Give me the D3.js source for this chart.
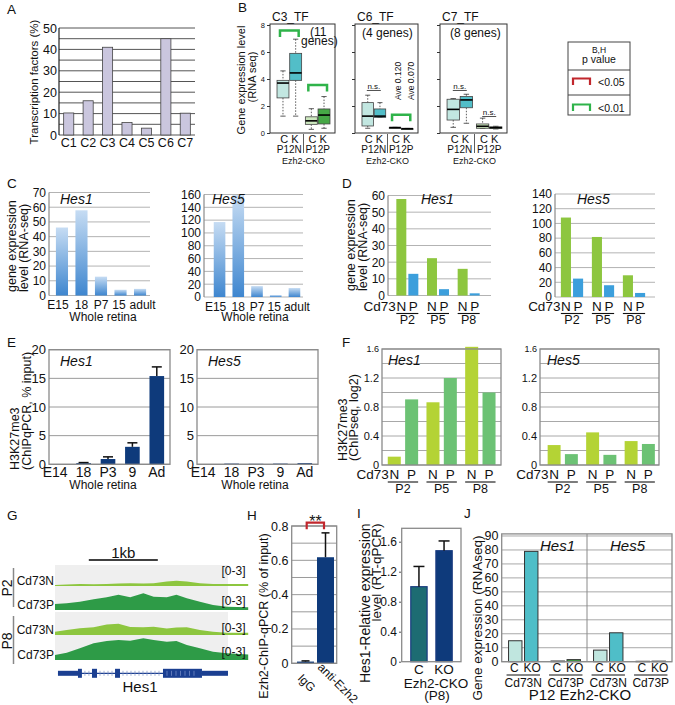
<!DOCTYPE html>
<html><head><meta charset="utf-8">
<script src="https://cdn.jsdelivr.net/npm/d3@7/dist/d3.min.js"></script>
<style>html,body{margin:0;padding:0;background:#fff}svg{display:block}</style>
</head><body>
<svg id="fig" width="675" height="705" xmlns="http://www.w3.org/2000/svg"></svg>
<script>
// ================= DATA =================
// Panel A
const aCategories = ["C1","C2","C3","C4","C5","C6","C7"];
const aValues = [10.3, 16, 41, 5.8, 3.2, 45, 10.2];
const aTicks = [0,10,20,30,40,50];

// Panel B  (box stats: [low whisker, q1, median, q3, high whisker]; order P12N-C, P12N-K, P12P-C, P12P-K)
const bTitles = ["C3_TF","C6_TF","C7_TF"];
const bGeneCounts = ["(11 genes)","(4 genes)","(8 genes)"];
const bGroups = ["P12N","P12P"];
const bGenotypes = ["C","K"];
const bTicks = [0,2,4,6,8];
const bC3Boxes = [[1.25,2.6,3.7,3.9,4.6],[1.25,3.9,4.45,5.9,6.95],[0.27,0.64,0.9,1.2,1.8],[0.35,0.67,1.33,1.78,2.7]];
const bC6Boxes = [[0.35,0.52,1.25,2.25,2.8],[1.16,1.16,1.25,1.78,2.25],[0.38,0.38,0.4,0.42,0.42],[0.3,0.3,0.32,0.34,0.34]];
const bC7Boxes = [[0.42,0.96,1.75,2.5,2.55],[0.72,1.87,2.45,2.7,2.87],[0.35,0.35,0.5,0.67,1.1],[0.3,0.33,0.4,0.45,0.5]];
const bSignif = [[["P12N",7.6],["P12P",3.55]], [["P12P",1.35]], []];
const bNotSignif = [[], [["P12N",3.15]], [["P12N",3.15],["P12P",1.22]]];
const bAveLabels = ["Ave 0.120","Ave 0.070"];
const legendLabels = ["<0.05","<0.01"];

// Panel C
const cStages = ["E15","18","P7","15","adult"];
const cHes1 = [46.2, 57.9, 12.8, 3.9, 4.5];
const cHes5 = [117, 159, 17, 3, 14];
const cHes1Ticks = [0,10,20,30,40,50,60,70];
const cHes5Ticks = [0,20,40,60,80,100,120,140,160];

// Panel D
const dStages = ["P2","P5","P8"];
const dCells = ["N","P"];
const dHes1N = [57.9, 22.4, 16];
const dHes1P = [13, 3.8, 1.3];
const dHes5N = [108, 81.6, 29.5];
const dHes5P = [25, 16, 5.5];
const dHes1Ticks = [0,10,20,30,40,50,60];
const dHes5Ticks = [0,20,40,60,80,100,120,140];

// Panel E
const eStages = ["E14","18","P3","9","Ad"];
const eHes1 = [0, 0.2, 0.92, 3.05, 15.4];
const eHes1Err = [0, 0.1, 0.38, 0.7, 1.6];
const eHes5 = [0, 0.12, 0.08, 0.12, 0.2];
const eHes5Err = [0, 0, 0, 0, 0];
const eTicks = [0,5,10,15,20];

// Panel F
const fHes1N = [0.115, 0.865, 1.63];
const fHes1P = [0.905, 1.2, 1.0];
const fHes5N = [0.275, 0.45, 0.33];
const fHes5P = [0.15, 0.14, 0.29];
const fTicks = [0,0.4,0.8,1.2,1.6];
const fGrid = [0,0.2,0.4,0.6,0.8,1.0,1.2,1.4,1.6];

// Panel G (ChIP-seq tracks, scale 0-3)
const gPositionsKb = [0,0.17,0.36,0.56,0.75,0.92,1.09,1.28,1.43,1.62,1.76,1.91,2.1,2.29,2.49,2.8];
const gP2Cd73N = [0.13,0.18,0.25,0.22,0.25,0.3,0.33,0.3,0.33,0.55,0.67,0.55,0.35,0.25,0.25,0.25];
const gP2Cd73P = [0.75,0.83,1.04,1.33,1.58,1.9,1.58,2.08,1.67,1.58,1.9,1.46,1.04,0.63,0.42,0.35];
const gP8Cd73N = [0.42,0.63,0.83,0.96,1.3,1.4,1.0,0.96,1.04,0.8,0.95,0.96,0.63,0.42,0.29,0.29];
const gP8Cd73P = [0.63,0.92,1.46,2.08,2.38,2.5,2.42,2.71,2.5,2.29,2.38,1.88,1.46,1.04,0.83,0.7];
const gTrackLabels = ["Cd73N","Cd73P","Cd73N","Cd73P"];
const gStages = ["P2","P8"];
const gRange = "[0-3]";
const gGeneKb = [0.043, 2.507];
const gUtrKb = [[0.043,0.333],[2.13,2.507]];
const gExonsKb = [[0.333,0.39],[0.536,0.609],[0.87,0.942],[1.565,2.13]];

// Panel H
const hCats = ["IgG","anti-Ezh2"];
const hValues = [0.01, 0.618];
const hErr = [0.004, 0.142];
const hTicks = [0,0.2,0.4,0.6,0.8];
const hGrid = [0,0.1,0.2,0.3,0.4,0.5,0.6,0.7,0.8];

// Panel I
const iCats = ["C","KO"];
const iValues = [1.0, 1.48];
const iErr = [0.27, 0.13];
const iTicks = [0,0.4,0.8,1.2,1.6];

// Panel J
const jGenes = ["Hes1","Hes5"];
const jCells = ["Cd73N","Cd73P"];
const jGeno = ["C","KO"];
const jHes1 = [15, 79, 0.5, 1.5];
const jHes5 = [8.3, 20.7, 0.3, 0.4];
const jTicks = [0,10,20,30,40,50,60,70,80,90];

// ================= DRAWING =================
const F = '"Liberation Sans", Arial, Helvetica, sans-serif';
const svg = d3.select("#fig");
svg.append("rect").attr("width",675).attr("height",705).attr("fill","#fff");
const defs = svg.append("defs");
const grad = defs.append("linearGradient").attr("id","blueGrad").attr("x1",0).attr("y1",0).attr("x2",0).attr("y2",1);
grad.append("stop").attr("offset","0%").attr("stop-color","#c6dcf3");
grad.append("stop").attr("offset","100%").attr("stop-color","#3e86cf");

function T(g, x, y, s, o = {}) {
  const t = g.append("text").attr("x", x).attr("y", y).text(s)
    .attr("font-family", F).attr("font-size", o.size || 12)
    .attr("text-anchor", o.anchor || "start").attr("fill", o.fill || "#111");
  if (o.italic) t.attr("font-style", "italic");
  if (o.weight) t.attr("font-weight", o.weight);
  if (o.rot != null) t.attr("transform", `rotate(${o.rot},${x},${y})`);
  return t;
}
function L(g, x1, y1, x2, y2, c = "#000", w = 1, dash) {
  const l = g.append("line").attr("x1", x1).attr("y1", y1).attr("x2", x2).attr("y2", y2)
    .attr("stroke", c).attr("stroke-width", w);
  if (dash) l.attr("stroke-dasharray", dash);
  return l;
}
function yAxis(g, x, y, ticks, o = {}) {
  const ax = g.append("g").attr("transform", `translate(${x},0)`)
    .call(d3.axisLeft(y).tickValues(ticks).tickSize(o.tick || 0).tickPadding(o.pad == null ? 3 : o.pad)
      .tickFormat(o.fmt || (d => String(d))));
  ax.select(".domain").remove();
  ax.selectAll("text").attr("font-family", F).attr("font-size", o.size || 12).attr("fill", "#111");
  ax.selectAll("line").attr("stroke", o.tickColor || "#555");
  return ax;
}
function grid(g, x0, x1, y, vals, c = "#aaa", w = 1) {
  g.append("g").selectAll("line").data(vals).join("line")
    .attr("x1", x0).attr("x2", x1).attr("y1", d => y(d)).attr("y2", d => y(d))
    .attr("stroke", c).attr("stroke-width", w);
}
function frame(g, x0, x1, yTop, yBot, c = "#888", w = 1.2) {
  g.append("rect").attr("x", x0).attr("y", yTop).attr("width", x1 - x0).attr("height", yBot - yTop)
    .attr("fill", "none").attr("stroke", c).attr("stroke-width", w);
}
function bracket(g, xa, xb, yTop, h, c, w = 2.2) {
  g.append("path").attr("d", `M${xa},${yTop + h}V${yTop}H${xb}V${yTop + h}`)
    .attr("fill", "none").attr("stroke", c).attr("stroke-width", w);
}
function groupedBars(g, groups, subs, series, xr, pi, po, y, colors, stroke, sw) {
  const xg = d3.scaleBand().domain(groups).range(xr);
  const xs = d3.scaleBand().domain(subs).range([0, xg.bandwidth()]).paddingInner(pi).paddingOuter(po);
  subs.forEach((s, si) => {
    g.append("g").selectAll("rect").data(series[si]).join("rect")
      .attr("x", (d, i) => xg(groups[i]) + xs(s)).attr("y", d => y(d))
      .attr("width", xs.bandwidth()).attr("height", d => Math.max(0, y(0) - y(d)))
      .attr("fill", Array.isArray(colors[si]) ? (d, i) => colors[si][i] : colors[si])
      .attr("stroke", stroke || "none").attr("stroke-width", sw || 0);
  });
  return { xg, xs };
}
function errorBars(g, x, cats, vals, errs, y, cap) {
  cats.forEach((c, i) => {
    if (!errs[i]) return;
    const cx = x(c) + x.bandwidth() / 2;
    L(g, cx, y(vals[i]), cx, y(vals[i] + errs[i]), "#111", 1.5);
    L(g, cx - cap / 2, y(vals[i] + errs[i]), cx + cap / 2, y(vals[i] + errs[i]), "#111", 1.5);
  });
}

// panel letters
[["A",7,13.5],["B",238,12],["C",7,187.5],["D",342,188],["E",7,347],["F",342,347],
 ["G",7,520],["H",247,520],["I",357,518],["J",464,518]].forEach(([s,x,y]) => T(svg, x, y, s, {size:13.5}));

// ---------- Panel A ----------
{
  const g = svg.append("g");
  const x = d3.scaleBand().domain(aCategories).range([59,195]).paddingInner(0.48).paddingOuter(0.24);
  const y = d3.scaleLinear().domain([0,50]).range([135,28]);
  grid(g, 59, 195, y, d3.range(0, 51, 5), "#555", 1);
  g.append("g").selectAll("rect").data(aValues).join("rect")
    .attr("x", (d,i) => x(aCategories[i])).attr("y", d => y(d))
    .attr("width", x.bandwidth()).attr("height", d => y(0) - y(d))
    .attr("fill", "#cac6de").attr("stroke", "#444").attr("stroke-width", 0.8);
  L(g, 59, 28, 59, 135, "#222", 1.2);
  yAxis(g, 59, y, aTicks, {size:12.5, pad:2});
  const xa = g.append("g").attr("transform","translate(0,135)").call(d3.axisBottom(x).tickSize(0).tickPadding(3));
  xa.select(".domain").remove();
  xa.selectAll("text").attr("font-family",F).attr("font-size",12.5).attr("fill","#111");
  T(g, 37.5, 82, "Transcription factors (%)", {size:11.5, anchor:"middle", rot:-90});
}

// ---------- Panel B ----------
{
  const yB = d3.scaleLinear().domain([0,8]).range([133,25]);
  const sets = [bC3Boxes, bC6Boxes, bC7Boxes];
  const boxColors = ["#c2e7e1","#52bec8","#cde8bf","#46a846"];
  [[270,335],[355,418],[440,507]].forEach(([x0,x1], pi) => {
    const g = svg.append("g");
    const ax = g.append("g").attr("transform",`translate(${x0},0)`)
      .call(d3.axisLeft(yB).tickValues(bTicks).tickSize(3).tickPadding(2).tickFormat(pi === 0 ? (d => String(d)) : (() => "")));
    ax.select(".domain").remove();
    ax.selectAll("text").attr("font-family",F).attr("font-size",7.5).attr("fill","#111");
    ax.selectAll("line").attr("stroke","#333");
    T(g, x0 + 2, 21, bTitles[pi], {size:12});
    if (pi === 0) {
      const parts = bGeneCounts[0].split(" ");
      T(g, 310, 36, parts[0], {size:12});
      T(g, 301, 45, parts[1], {size:12});
    } else {
      T(g, x0 + (pi === 1 ? 7 : 10), 37, bGeneCounts[pi], {size:12});
    }
    const xg = d3.scaleBand().domain(bGroups).range([x0 + 6, x1 - 4]).paddingInner(0.06);
    const xs = d3.scaleBand().domain(bGenotypes).range([0, xg.bandwidth()]).paddingInner(0.06).paddingOuter(0.08);
    const bw = xs.bandwidth();
    bGroups.forEach((gr, gi) => bGenotypes.forEach((ge, si) => {
      const s = sets[pi][gi * 2 + si];
      const bx = xg(gr) + xs(ge), cx = bx + bw / 2;
      L(g, cx, yB(s[4]), cx, yB(s[3]), "#333", 0.8, "1.5,1.5");
      L(g, cx, yB(s[1]), cx, yB(s[0]), "#333", 0.8, "1.5,1.5");
      L(g, cx - bw * 0.22, yB(s[4]), cx + bw * 0.22, yB(s[4]), "#333", 0.8);
      L(g, cx - bw * 0.22, yB(s[0]), cx + bw * 0.22, yB(s[0]), "#333", 0.8);
      g.append("rect").attr("x", bx).attr("y", yB(s[3])).attr("width", bw)
        .attr("height", Math.max(1.2, yB(s[1]) - yB(s[3])))
        .attr("fill", boxColors[gi * 2 + si]).attr("stroke", "#444").attr("stroke-width", 0.8);
      L(g, bx, yB(s[2]), bx + bw, yB(s[2]), "#000", 1.6);
    }));
    frame(g, x0, x1, 24, 133, "#333", 1);
    bSignif[pi].forEach(([gr, v]) => {
      bracket(g, xg(gr) + xs("C") + bw / 2 - 3, xg(gr) + xs("K") + bw / 2 + 3, yB(v), 6.5, "#2fb34a", 2.5);
    });
    bNotSignif[pi].forEach(([gr, v]) => {
      const cx = xg(gr) + xg.bandwidth() / 2;
      T(g, cx, yB(v) - 1.5, "n.s.", {size:8, anchor:"middle"});
      L(g, cx - 7, yB(v), cx + 7, yB(v), "#222", 0.8);
    });
    if (pi === 1) {
      T(g, 401, 100, bAveLabels[0], {size:8.5, rot:-90});
      T(g, 413.5, 100, bAveLabels[1], {size:8.5, rot:-90});
    }
    const centers = bGroups.map(gr => xg(gr) + xg.bandwidth() / 2);
    bGroups.forEach((gr, gi) => {
      T(g, centers[gi], 143, bGenotypes.join(" "), {size:11, anchor:"middle"});
      T(g, centers[gi], 152.5, gr, {size:10, anchor:"middle"});
    });
    const sep = (xg(bGroups[0]) + xg.bandwidth() + xg(bGroups[1])) / 2;
    L(g, sep, 134, sep, 153, "#333", 0.8);
    T(g, (centers[0] + centers[1]) / 2, 163.5, "Ezh2-CKO", {size:9, anchor:"middle"});
  });
  const g = svg.append("g");
  T(g, 245, 80, "Gene expression level", {size:11, anchor:"middle", rot:-90});
  T(g, 256, 77, "(RNA seq)", {size:11, anchor:"middle", rot:-90});
  // legend
  frame(g, 568, 630, 42, 115, "#444", 1);
  L(g, 568, 70, 630, 70, "#444", 1);
  L(g, 568, 95, 630, 95, "#444", 1);
  T(g, 599, 52.5, "B,H", {size:8.5, anchor:"middle"});
  T(g, 599, 62.5, "p value", {size:10.5, anchor:"middle"});
  bracket(g, 573, 590, 78.5, 6.5, "#c1272d", 2.2);
  T(g, 598, 86, legendLabels[0], {size:10.5});
  bracket(g, 573, 590, 104.5, 6.5, "#2fb34a", 2.2);
  T(g, 598, 111.5, legendLabels[1], {size:10.5});
}

// ---------- Panel C ----------
function drawC(vals, ticks, yr, xr, fx, title, titleX, retinaX) {
  const g = svg.append("g");
  const y = d3.scaleLinear().domain([0, ticks[ticks.length - 1]]).range(yr);
  const x = d3.scaleBand().domain(cStages).range(xr).paddingInner(0.38).paddingOuter(0.2);
  grid(g, fx[0], fx[1], y, ticks, "#b3b3b3", 1);
  L(g, fx[0], yr[1], fx[0], yr[0], "#8a8a8a", 1.2);
  g.append("g").selectAll("rect").data(vals).join("rect")
    .attr("x", (d,i) => x(cStages[i])).attr("y", d => y(d))
    .attr("width", x.bandwidth()).attr("height", d => y(0) - y(d)).attr("fill", "url(#blueGrad)");
  yAxis(g, fx[0] - 1, y, ticks, {size:12, pad:2});
  const xa = g.append("g").attr("transform",`translate(0,${yr[0]})`).call(d3.axisBottom(x).tickSize(0).tickPadding(5));
  xa.select(".domain").remove();
  const nudge = [-4, 0, 0, -1.5, 2.5];
  xa.selectAll("text").attr("font-family",F).attr("font-size",12).attr("fill","#111")
    .attr("dx", (d,i) => nudge[i]);
  T(g, titleX, 203.5, title, {size:14, italic:true});
  T(g, retinaX, 320.5, "Whole retina", {size:12, anchor:"middle"});
}
drawC(cHes1, cHes1Ticks, [295.5,192.5], [52,150], [49,150], "Hes1", 60, 103);
drawC(cHes5, cHes5Ticks, [297,194.5], [210,304], [204,303], "Hes5", 212, 255);
{
  const g = svg.append("g");
  T(g, 15.5, 292, "gene expression", {size:12.5, rot:-90});
  T(g, 28, 292, "level  (RNA-seq)", {size:12.5, rot:-90});
}

// ---------- Panel D / F helpers ----------
function cd73Labels(g, xg, xs, base) {
  const bw = xs.bandwidth();
  dStages.forEach(st => {
    const gx0 = xg(st);
    dCells.forEach(c => T(g, gx0 + xs(c) + bw / 2, base, c, {size:13.5, anchor:"middle"}));
    L(g, gx0 + xs(dCells[0]), base + 3, gx0 + xs(dCells[1]) + bw, base + 3, "#111", 1.1);
    T(g, gx0 + xg.bandwidth() / 2, base + 13.5, st, {size:12.5, anchor:"middle"});
  });
  T(g, xg(dStages[0]) + xs(dCells[0]) + bw / 2 - 5.5, base, "Cd73", {size:13.5, anchor:"end"});
}
function drawD(nVals, pVals, ticks, yr, fx, xr, title, titleX) {
  const g = svg.append("g");
  const y = d3.scaleLinear().domain([0, ticks[ticks.length - 1]]).range(yr);
  grid(g, fx[0], fx[1], y, ticks, "#b3b3b3", 1);
  L(g, fx[0], yr[1], fx[0], yr[0], "#8a8a8a", 1.2);
  const { xg, xs } = groupedBars(g, dStages, dCells, [nVals, pVals], xr, 0.17, 0.36, y, ["#8dc63f","#3c9fdc"]);
  yAxis(g, fx[0] - 1, y, ticks, {size:12, pad:2});
  cd73Labels(g, xg, xs, 310.5);
  T(g, titleX, 203.5, title, {size:14, italic:true});
}
drawD(dHes1N, dHes1P, dHes1Ticks, [295.5,195.5], [388,491], [392,484], "Hes1", 421);
drawD(dHes5N, dHes5P, dHes5Ticks, [297,194], [555,655], [556.5,649.5], "Hes5", 577);
{
  const g = svg.append("g");
  T(g, 355, 291, "gene expression", {size:12.5, rot:-90});
  T(g, 366.5, 291, "level  (RNA-seq)", {size:12.5, rot:-90});
}

// ---------- Panel E ----------
function drawE(vals, errs, fx, xr, title, titleX, retinaX) {
  const g = svg.append("g");
  const y = d3.scaleLinear().domain([0,20]).range([464.3,349.7]);
  const x = d3.scaleBand().domain(eStages).range(xr).paddingInner(0.4).paddingOuter(0.2);
  grid(g, fx[0], fx[1], y, eTicks, "#9a9a9a", 1);
  g.append("g").selectAll("rect").data(vals).join("rect")
    .attr("x", (d,i) => x(eStages[i])).attr("y", d => y(d))
    .attr("width", x.bandwidth()).attr("height", d => y(0) - y(d)).attr("fill", "#0e3a7b");
  errorBars(g, x, eStages, vals, errs, y, 10);
  frame(g, fx[0], fx[1], y(20), y(0), "#8a8a8a", 1.3);
  yAxis(g, fx[0] - 1, y, eTicks, {size:13, pad:2});
  const xa = g.append("g").attr("transform",`translate(0,${y(0)})`).call(d3.axisBottom(x).tickSize(0).tickPadding(3));
  xa.select(".domain").remove();
  xa.selectAll("text").attr("font-family",F).attr("font-size",14).attr("fill","#111")
    .attr("dx", (d,i) => i === 0 ? -4 : 0);
  T(g, titleX, 366, title, {size:14, italic:true});
  T(g, retinaX, 489, "Whole retina", {size:12, anchor:"middle"});
}
drawE(eHes1, eHes1Err, [49,170], [47,169], "Hes1", 60, 103);
drawE(eHes5, eHes5Err, [197,318], [195,317], "Hes5", 208, 255);
{
  const g = svg.append("g");
  T(g, 18.5, 470, "H3K27me3", {size:12.5, rot:-90});
  T(g, 30.5, 470, "(ChIPqPCR, % input)", {size:12.5, rot:-90});
}

// ---------- Panel F ----------
function drawF(nVals, pVals, fx, xr, title, titleX) {
  const g = svg.append("g");
  const y = d3.scaleLinear().domain([0,1.6]).range([465,349]);
  grid(g, fx[0], fx[1], y, fGrid, "#a8a8a8", 1);
  const { xg, xs } = groupedBars(g, dStages, dCells, [nVals, pVals], xr, 0.25, 0.24, y, ["#b4d335","#6cc274"]);
  frame(g, fx[0], fx[1], y(1.6), y(0), "#8a8a8a", 1.3);
  const ax = yAxis(g, fx[0] - 1, y, fTicks, {size:11, pad:2});
  ax.selectAll("text").filter(d => d === 1.6).attr("font-size", 9);
  cd73Labels(g, xg, xs, 479);
  T(g, titleX, 364.5, title, {size:14, italic:true});
}
drawF(fHes1N, fHes1P, [382,501], [383.6,499.7], "Hes1", 388);
drawF(fHes5N, fHes5P, [540,659], [543.5,659], "Hes5", 547);
{
  const g = svg.append("g");
  T(g, 347, 461, "H3K27me3", {size:12.5, rot:-90});
  T(g, 357.5, 461, "(ChIPseq, log2)", {size:12.5, rot:-90});
}

// ---------- Panel G ----------
{
  const g = svg.append("g");
  const gx = d3.scaleLinear().domain([0,2.8]).range([55,248.2]);
  const rows = [[565,586,gP2Cd73N,"#8dc63f"],[586,610,gP2Cd73P,"#2e9b47"],[612,635,gP8Cd73N,"#8dc63f"],[635,660,gP8Cd73P,"#2e9b47"]];
  const labelBase = [574.5, 605, 631.5, 656];
  rows.forEach(([top, bot, vals, col], ri) => {
    g.append("rect").attr("x", 55).attr("y", top).attr("width", 173).attr("height", bot - top).attr("fill", "#efefef");
    const yv = d3.scaleLinear().domain([0,3]).range([bot, bot - 24]);
    const area = d3.area().x((d,i) => gx(gPositionsKb[i])).y0(bot).y1(d => yv(d));
    g.append("path").datum(vals).attr("d", area).attr("fill", col);
    T(g, 54, bot - 1, gTrackLabels[ri], {size:12, anchor:"end"});
    T(g, 221.5, labelBase[ri], gRange, {size:12});
  });
  L(g, 13.5, 568, 13.5, 607, "#888", 1.5);
  L(g, 13.5, 616, 13.5, 664, "#888", 1.5);
  T(g, 11.5, 588, gStages[0], {size:14, anchor:"middle", rot:-90});
  T(g, 11.5, 641, gStages[1], {size:14, anchor:"middle", rot:-90});
  // scale bar
  L(g, gx(0.49), 560, gx(1.49), 560, "#000", 1.6);
  T(g, gx(0.99), 557.5, "1kb", {size:15, anchor:"middle"});
  // gene model
  const gy = 673.3, navy = "#1b3f91";
  L(g, gx(gGeneKb[0]), gy, gx(gGeneKb[1]), gy, navy, 1.2);
  for (let k = 0; k < gExonsKb.length - 1; k++) {
    const a = gx(gExonsKb[k][1]), b = gx(gExonsKb[k + 1][0]);
    for (let xx = a + 3; xx < b - 1; xx += 4) L(g, xx, gy - 2.5, xx, gy + 2.5, "#7d8fc2", 0.7);
  }
  gUtrKb.forEach(([a, b]) => g.append("rect").attr("x", gx(a)).attr("y", gy - 2.5).attr("width", gx(b) - gx(a)).attr("height", 5).attr("fill", navy));
  gExonsKb.forEach(([a, b]) => g.append("rect").attr("x", gx(a)).attr("y", gy - 4.5).attr("width", gx(b) - gx(a)).attr("height", 9).attr("fill", navy));
  {
    const [a, b] = gExonsKb[gExonsKb.length - 1];
    for (let xx = gx(a) + 4; xx < gx(b) - 6; xx += 4.5) L(g, xx, gy - 2.5, xx, gy + 2.5, "#8fa3d6", 0.6);
  }
  T(g, 140, 692, "Hes1", {size:15, anchor:"middle"});
}

// ---------- Panel H ----------
{
  const g = svg.append("g");
  const y = d3.scaleLinear().domain([0,0.8]).range([663.3,526]);
  const x = d3.scaleBand().domain(hCats).range([295,336]).paddingInner(0.15).paddingOuter(0.1);
  grid(g, 291.7, 336.7, y, hGrid, "#9a9a9a", 1);
  g.append("g").selectAll("rect").data(hValues).join("rect")
    .attr("x", (d,i) => x(hCats[i])).attr("y", d => y(d))
    .attr("width", x.bandwidth()).attr("height", d => y(0) - y(d)).attr("fill", "#0e3a7b");
  errorBars(g, x, hCats, hValues, hErr, y, 8);
  frame(g, 291.7, 336.7, y(0.8), y(0), "#8a8a8a", 1.3);
  yAxis(g, 290.5, y, hTicks, {size:12.5, pad:2, fmt: d => d === 0 ? "0" : d3.format(".1f")(d)});
  hCats.forEach((c, i) => T(g, x(c) + x.bandwidth() / 2 - 8.5, 679 - i * 11, c, {size:12, rot:45}));
  bracket(g, 306.7, 324, 522.7, 6.6, "#c1272d", 2.2);
  T(g, 315.5, 527, "**", {size:16, anchor:"middle"});
  T(g, 268, 616, "Ezh2-ChIP-qPCR (% of input)", {size:12.5, anchor:"middle", rot:-90});
}

// ---------- Panel I ----------
{
  const g = svg.append("g");
  const y = d3.scaleLinear().domain([0,1.6]).range([661.7,541.7]);
  const x = d3.scaleBand().domain(iCats).range([402,461]).paddingInner(0.35).paddingOuter(0.35);
  const cols = ["#1d6c72","#0e3a7b"];
  g.append("g").selectAll("rect").data(iValues).join("rect")
    .attr("x", (d,i) => x(iCats[i])).attr("y", d => y(d))
    .attr("width", x.bandwidth()).attr("height", d => y(0) - y(d))
    .attr("fill", (d,i) => cols[i]).attr("stroke", "#1a3c80").attr("stroke-width", 1.2);
  errorBars(g, x, iCats, iValues, iErr, y, 11);
  frame(g, 401.7, 461, 528.3, 661.7, "#8a8a8a", 1.3);
  yAxis(g, 401, y, iTicks, {size:12, pad:2, tick:2, fmt: d => d === 0 ? "0" : d3.format(".1f")(d)});
  iCats.forEach(c => T(g, x(c) + x.bandwidth() / 2, 673.5, c, {size:13.5, anchor:"middle"}));
  T(g, 436, 687.5, "Ezh2-CKO", {size:13.5, anchor:"middle"});
  T(g, 437, 700, "(P8)", {size:13.5, anchor:"middle"});
  T(g, 369.5, 523.5, "Hes1-Relative expression", {size:14, anchor:"end", rot:-90});
  T(g, 380.5, 523.5, "level (RT-qPCR)", {size:13.5, anchor:"end", rot:-90});
}

// ---------- Panel J ----------
{
  const g = svg.append("g");
  const y = d3.scaleLinear().domain([0,91.5]).range([661.7,533.9]);
  grid(g, 501.7, 672, y, jTicks, "#a8a8a8", 1);
  const keys = jGenes.flatMap(ge => jCells.map(c => ge + "|" + c));
  const vals = [jHes1, jHes5].flat();
  const cSeries = keys.map((k, i) => vals[i * 2]);
  const koSeries = keys.map((k, i) => vals[i * 2 + 1]);
  const cCols = keys.map(k => k.endsWith(jCells[0]) ? "#c0e6df" : "#cfe7c4");
  const koCols = keys.map(k => k.endsWith(jCells[0]) ? "#4fbec8" : "#3f9f45");
  const { xg, xs } = groupedBars(g, keys, jGeno, [cSeries, koSeries], [502,672], 0.16, 0.41, y, [cCols, koCols], "#333", 1);
  const divX = xg(keys[2]);
  L(g, divX, y(91.5), divX, y(0), "#8a8a8a", 1);
  frame(g, 501.7, 672, y(91.5), y(0), "#8a8a8a", 1.3);
  yAxis(g, 500.5, y, jTicks, {size:12.5, pad:2});
  const bw = xs.bandwidth();
  keys.forEach(k => {
    const gx0 = xg(k);
    T(g, gx0 + xs(jGeno[0]) + bw / 2 - 1, 672, jGeno[0], {size:12, anchor:"middle"});
    T(g, gx0 + xs(jGeno[1]) + bw / 2 + 1, 672, jGeno[1], {size:12, anchor:"middle"});
    L(g, gx0 + xs(jGeno[0]) - 2, 675, gx0 + xs(jGeno[1]) + bw + 2, 675, "#111", 1.1);
    T(g, gx0 + xg.bandwidth() / 2, 686.5, k.split("|")[1], {size:12, anchor:"middle"});
  });
  T(g, 580, 699.5, "P12 Ezh2-CKO", {size:15, anchor:"middle"});
  T(g, 540, 551, jGenes[0], {size:15, italic:true});
  T(g, 610, 551, jGenes[1], {size:15, italic:true});
  T(g, 482, 618, "Gene expression (RNAseq)", {size:13.5, anchor:"middle", rot:-90});
}
</script></body></html>
